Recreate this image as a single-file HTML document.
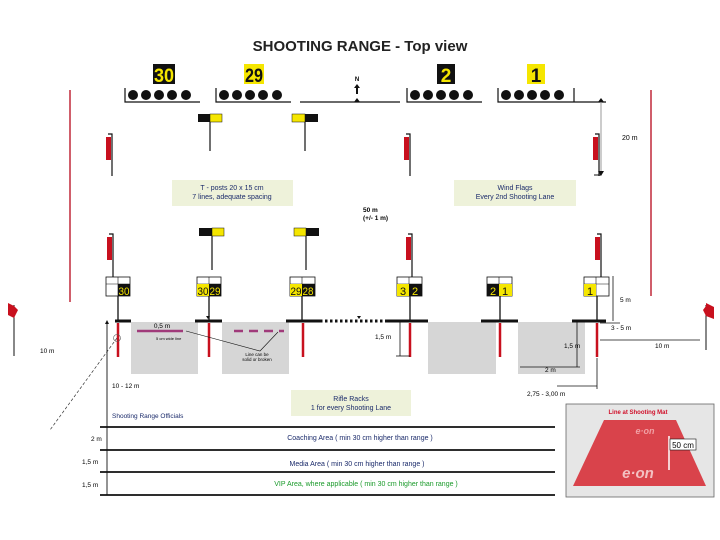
<!DOCTYPE html>
<html><head><meta charset="utf-8"><style>
html,body{margin:0;padding:0;background:#fff;}
svg{display:block;font-family:"Liberation Sans",Arial,sans-serif;}
</style></head><body>
<svg width="720" height="540" viewBox="0 0 720 540" xmlns="http://www.w3.org/2000/svg">
<rect width="720" height="540" fill="#fff"/>
<text x="360" y="51" font-size="15" font-weight="bold" text-anchor="middle" fill="#222">SHOOTING RANGE - Top view</text>

<!-- number tags -->
<rect x="153" y="64" width="22" height="20" fill="#111"/><text x="164" y="82" font-size="19" text-anchor="middle" fill="#f5e600" font-weight="bold" textLength="20" lengthAdjust="spacingAndGlyphs">30</text>
<rect x="244" y="64" width="20" height="20" fill="#f5e600"/><text x="254" y="82" font-size="19" text-anchor="middle" fill="#111" font-weight="bold" textLength="18" lengthAdjust="spacingAndGlyphs">29</text>
<rect x="437" y="64" width="18" height="20" fill="#111"/><text x="446" y="82" font-size="19" text-anchor="middle" fill="#f5e600" font-weight="bold">2</text>
<rect x="527" y="64" width="18" height="20" fill="#f5e600"/><text x="536" y="82" font-size="19" text-anchor="middle" fill="#111" font-weight="bold">1</text>

<!-- targets -->
<g fill="#111">
<circle cx="133" cy="95" r="5"/><circle cx="146" cy="95" r="5"/><circle cx="159" cy="95" r="5"/><circle cx="172" cy="95" r="5"/><circle cx="186" cy="95" r="5"/>
<circle cx="224" cy="95" r="5"/><circle cx="237" cy="95" r="5"/><circle cx="250" cy="95" r="5"/><circle cx="263" cy="95" r="5"/><circle cx="277" cy="95" r="5"/>
<circle cx="415" cy="95" r="5"/><circle cx="428" cy="95" r="5"/><circle cx="441" cy="95" r="5"/><circle cx="454" cy="95" r="5"/><circle cx="468" cy="95" r="5"/>
<circle cx="506" cy="95" r="5"/><circle cx="519" cy="95" r="5"/><circle cx="532" cy="95" r="5"/><circle cx="545" cy="95" r="5"/><circle cx="559" cy="95" r="5"/>
</g>
<g stroke="#111" stroke-width="1.2" fill="none">
<path d="M125 88V102H200"/><path d="M216 88V102H291"/><path d="M407 88V102H482"/><path d="M498 88V102H574"/>
<path d="M574 88V102"/><path d="M300 102H400"/><path d="M574 102H606"/>
</g>
<text x="357" y="81" font-size="6" font-weight="bold" text-anchor="middle">N</text>
<path d="M357 84l-3 4h2v6h2v-6h2z" fill="#111"/>
<path d="M357 98l-3 4h6z" fill="#111"/>
<path d="M601 98l-3 4h6z" fill="#111"/>
<line x1="601" y1="102" x2="601" y2="172" stroke="#999"/>
<path d="M601 176l-3-5h6z" fill="#111"/>
<line x1="594" y1="175" x2="601" y2="175" stroke="#111"/>
<text x="622" y="140" font-size="7">20 m</text>

<!-- range side lines -->
<line x1="70" y1="90" x2="70" y2="302" stroke="#c0293a" stroke-width="1.5"/>
<line x1="651" y1="90" x2="651" y2="296" stroke="#c0293a" stroke-width="1.5"/>

<!-- T-posts -->
<g stroke="#111" stroke-width="1.2">
<line x1="210" y1="122" x2="210" y2="151"/><line x1="305" y1="122" x2="305" y2="151"/>
<line x1="212" y1="236" x2="212" y2="270"/><line x1="306" y1="236" x2="306" y2="270"/>
</g>
<rect x="198" y="114" width="12" height="8" fill="#111"/><rect x="210" y="114" width="12" height="8" fill="#f5e600" stroke="#111" stroke-width=".5"/>
<rect x="292" y="114" width="13" height="8" fill="#f5e600" stroke="#111" stroke-width=".5"/><rect x="305" y="114" width="13" height="8" fill="#111"/>
<rect x="199" y="228" width="13" height="8" fill="#111"/><rect x="212" y="228" width="12" height="8" fill="#f5e600" stroke="#111" stroke-width=".5"/>
<rect x="294" y="228" width="12" height="8" fill="#f5e600" stroke="#111" stroke-width=".5"/><rect x="306" y="228" width="13" height="8" fill="#111"/>

<!-- wind flags -->
<g stroke="#111" stroke-width="1.2" fill="none">
<path d="M108 134h4v42"/><path d="M406 134h4v42"/><path d="M595 134h4v42"/>
<path d="M109 234h4v46"/><path d="M408 234h4v46"/><path d="M597 234h4v46"/>
</g>
<g fill="#c8101e">
<rect x="106" y="137" width="5" height="23"/><rect x="404" y="137" width="5" height="23"/><rect x="593" y="137" width="5" height="23"/>
<rect x="107" y="237" width="5" height="23"/><rect x="406" y="237" width="5" height="23"/><rect x="595" y="237" width="5" height="23"/>
</g>

<!-- info boxes -->
<rect x="172" y="180" width="121" height="26" fill="#eef2da"/>
<text x="232" y="190" font-size="7" text-anchor="middle" fill="#1a2a6a">T - posts 20 x 15 cm</text>
<text x="232" y="199" font-size="7" text-anchor="middle" fill="#1a2a6a">7 lines, adequate spacing</text>
<rect x="454" y="180" width="122" height="26" fill="#eef2da"/>
<text x="515" y="190" font-size="7" text-anchor="middle" fill="#1a2a6a">Wind Flags</text>
<text x="515" y="199" font-size="7" text-anchor="middle" fill="#1a2a6a">Every 2nd Shooting Lane</text>
<text x="363" y="212" font-size="6.5" font-weight="bold">50 m</text>
<text x="363" y="220" font-size="6.5" font-weight="bold">(+/- 1 m)</text>

<!-- lane boxes -->
<g stroke="#111" stroke-width=".8" fill="#fff">
<rect x="106" y="277" width="24" height="19"/><rect x="197" y="277" width="24" height="19"/><rect x="290" y="277" width="25" height="19"/>
<rect x="397" y="277" width="25" height="19"/><rect x="487" y="277" width="25" height="19"/><rect x="584" y="277" width="25" height="19"/>
</g>
<g stroke="#111" stroke-width=".6">
<line x1="106" y1="284" x2="130" y2="284"/><line x1="118" y1="277" x2="118" y2="296"/>
<line x1="197" y1="284" x2="221" y2="284"/><line x1="209" y1="277" x2="209" y2="296"/>
<line x1="290" y1="284" x2="315" y2="284"/><line x1="302" y1="277" x2="302" y2="296"/>
<line x1="397" y1="284" x2="422" y2="284"/><line x1="409" y1="277" x2="409" y2="296"/>
<line x1="487" y1="284" x2="512" y2="284"/><line x1="499" y1="277" x2="499" y2="296"/>
<line x1="584" y1="284" x2="609" y2="284"/><line x1="596" y1="277" x2="596" y2="296"/>
</g>
<rect x="118" y="284" width="12" height="12" fill="#111"/><text x="124" y="295" font-size="11" text-anchor="middle" fill="#f5e600" textLength="11" lengthAdjust="spacingAndGlyphs">30</text>
<rect x="197" y="284" width="12" height="12" fill="#f5e600"/><text x="203" y="295" font-size="11" text-anchor="middle" fill="#111" textLength="11" lengthAdjust="spacingAndGlyphs">30</text>
<rect x="209" y="284" width="12" height="12" fill="#111"/><text x="215" y="295" font-size="11" text-anchor="middle" fill="#f5e600" textLength="11" lengthAdjust="spacingAndGlyphs">29</text>
<rect x="290" y="284" width="12" height="12" fill="#f5e600"/><text x="296" y="295" font-size="11" text-anchor="middle" fill="#111" textLength="11" lengthAdjust="spacingAndGlyphs">29</text>
<rect x="302" y="284" width="13" height="12" fill="#111"/><text x="308" y="295" font-size="11" text-anchor="middle" fill="#f5e600" textLength="11" lengthAdjust="spacingAndGlyphs">28</text>
<rect x="397" y="284" width="12" height="12" fill="#f5e600"/><text x="403" y="295" font-size="11" text-anchor="middle" fill="#111">3</text>
<rect x="409" y="284" width="13" height="12" fill="#111"/><text x="415" y="295" font-size="11" text-anchor="middle" fill="#f5e600">2</text>
<rect x="487" y="284" width="12" height="12" fill="#111"/><text x="493" y="295" font-size="11" text-anchor="middle" fill="#f5e600">2</text>
<rect x="499" y="284" width="13" height="12" fill="#f5e600"/><text x="505" y="295" font-size="11" text-anchor="middle" fill="#111">1</text>
<rect x="584" y="284" width="12" height="12" fill="#f5e600"/><text x="590" y="295" font-size="11" text-anchor="middle" fill="#111">1</text>

<!-- grey mats -->
<g fill="#d6d6d6">
<rect x="131" y="322" width="67" height="52"/><rect x="222" y="322" width="67" height="52"/>
<rect x="428" y="322" width="68" height="52"/><rect x="518" y="322" width="67" height="52"/>
</g>
<!-- posts -->
<g stroke="#111" stroke-width="1.3">
<line x1="118" y1="296" x2="118" y2="321"/><line x1="209" y1="296" x2="209" y2="321"/><line x1="302" y1="296" x2="302" y2="321"/>
<line x1="410" y1="296" x2="410" y2="321"/><line x1="500" y1="296" x2="500" y2="321"/><line x1="597" y1="296" x2="597" y2="321"/>
</g>
<!-- firing line -->
<g stroke="#111" stroke-width="3">
<line x1="115" y1="321" x2="131" y2="321"/><line x1="195" y1="321" x2="222" y2="321"/><line x1="286" y1="321" x2="320" y2="321"/>
<line x1="387" y1="321" x2="428" y2="321"/><line x1="481" y1="321" x2="518" y2="321"/><line x1="572" y1="321" x2="606" y2="321"/>
<line x1="320" y1="321" x2="387" y2="321" stroke-dasharray="2.5,2.5"/>
</g>
<g stroke="#c8101e" stroke-width="2.5">
<line x1="118" y1="323" x2="118" y2="357"/><line x1="209" y1="323" x2="209" y2="357"/><line x1="303" y1="323" x2="303" y2="357"/>
<line x1="410" y1="323" x2="410" y2="357"/><line x1="500" y1="323" x2="500" y2="357"/><line x1="597" y1="323" x2="597" y2="357"/>
</g>
<path d="M208 319l-2-3h4z M359 319l-2-3h4z" fill="#111"/>
<!-- pink lines -->
<line x1="137" y1="331" x2="183" y2="331" stroke="#a03a7a" stroke-width="2.5"/>
<line x1="234" y1="331" x2="284" y2="331" stroke="#a03a7a" stroke-width="2.5" stroke-dasharray="9,6"/>
<text x="162" y="328" font-size="6.5" text-anchor="middle">0,5 m</text>
<text x="156" y="340" font-size="4">5 cm wide line</text>
<path d="M186 331L260 351L278 332" stroke="#111" stroke-width=".6" fill="none"/>
<text x="257" y="356" font-size="4.5" text-anchor="middle">Line can be</text>
<text x="257" y="361" font-size="4.5" text-anchor="middle">solid or broken</text>
<!-- 1,5 m left -->
<g stroke="#111" stroke-width=".8"><line x1="400" y1="322" x2="400" y2="356"/><line x1="396" y1="356" x2="410" y2="356"/></g>
<text x="375" y="339" font-size="6.5">1,5 m</text>
<!-- right dims -->
<g stroke="#111" stroke-width=".8" fill="none">
<line x1="577" y1="322" x2="577" y2="367"/><line x1="520" y1="367" x2="580" y2="367"/>
<line x1="604" y1="330" x2="604" y2="330"/>
<line x1="597" y1="358" x2="597" y2="389"/><line x1="557" y1="386" x2="597" y2="386"/>
<line x1="613" y1="276" x2="613" y2="321"/>
<line x1="600" y1="323" x2="620" y2="323"/><line x1="600" y1="340" x2="700" y2="340"/>
</g>
<text x="564" y="348" font-size="6.5">1,5 m</text>
<text x="545" y="372" font-size="6.5">2 m</text>
<text x="527" y="396" font-size="6.5">2,75 - 3,00 m</text>
<text x="620" y="302" font-size="6.5">5 m</text>
<text x="611" y="330" font-size="6.5">3 - 5 m</text>
<text x="655" y="348" font-size="6.5">10 m</text>
<text x="40" y="353" font-size="6.5">10 m</text>
<!-- side flags -->
<line x1="14" y1="305" x2="14" y2="356" stroke="#111"/><path d="M8 303l6 3v12l-6-3z" fill="#c8101e"/><path d="M14 306l4 4-4 8z" fill="#c8101e"/>
<line x1="706" y1="305" x2="706" y2="350" stroke="#111"/><path d="M706 303l8 4v12l-8-3z" fill="#c8101e"/><path d="M706 306l-3 4 3 6z" fill="#c8101e"/>
<!-- dashed diagonal -->
<line x1="117" y1="338" x2="50" y2="430" stroke="#333" stroke-width=".7" stroke-dasharray="3,2"/>
<circle cx="117" cy="338" r="3.5" fill="none" stroke="#555" stroke-width=".6"/>
<!-- vertical arrow -->
<line x1="107" y1="322" x2="107" y2="495" stroke="#111" stroke-width=".9"/>
<path d="M107 320l-2 4h4z" fill="#111"/>
<text x="112" y="388" font-size="6.5">10 - 12 m</text>
<text x="112" y="418" font-size="6.5" fill="#1a2a6a">Shooting Range Officials</text>
<rect x="291" y="390" width="120" height="26" fill="#eef2da"/>
<text x="351" y="401" font-size="7" text-anchor="middle" fill="#1a2a6a">Rifle Racks</text>
<text x="351" y="410" font-size="7" text-anchor="middle" fill="#1a2a6a">1 for every Shooting Lane</text>
<!-- bottom bands -->
<g stroke="#111" stroke-width="1.8">
<line x1="100" y1="427" x2="555" y2="427"/><line x1="100" y1="450" x2="555" y2="450"/>
<line x1="100" y1="472" x2="555" y2="472"/><line x1="100" y1="495" x2="555" y2="495"/>
</g>
<text x="91" y="441" font-size="6.5">2 m</text>
<text x="82" y="464" font-size="6.5">1,5 m</text>
<text x="82" y="487" font-size="6.5">1,5 m</text>
<text x="360" y="440" font-size="7" text-anchor="middle" fill="#1a2a6a">Coaching Area ( min 30 cm higher than range )</text>
<text x="357" y="466" font-size="7" text-anchor="middle" fill="#1a2a6a">Media Area ( min 30 cm higher than range )</text>
<text x="366" y="486" font-size="7" text-anchor="middle" fill="#1a9a2a">VIP Area, where applicable ( min 30 cm higher than range )</text>
<!-- inset photo -->
<rect x="566" y="404" width="148" height="93" fill="#e6e6e6" stroke="#666" stroke-width=".8"/>
<text x="638" y="414" font-size="6" font-weight="bold" text-anchor="middle" fill="#d0102a">Line at Shooting Mat</text>
<path d="M604 420L676 420L706 486L573 486Z" fill="#d9434b"/>
<text x="645" y="434" font-size="9" font-style="italic" font-weight="bold" fill="#f0a0a4" text-anchor="middle">e·on</text>
<text x="638" y="478" font-size="15" font-style="italic" font-weight="bold" fill="#f3c0c2" text-anchor="middle">e·on</text>
<line x1="669" y1="436" x2="669" y2="470" stroke="#fff" stroke-width="1.5"/>
<rect x="670" y="439" width="26" height="11" fill="#fff" stroke="#111" stroke-width=".6"/>
<text x="683" y="448" font-size="8" text-anchor="middle">50 cm</text>
</svg>
</body></html>
